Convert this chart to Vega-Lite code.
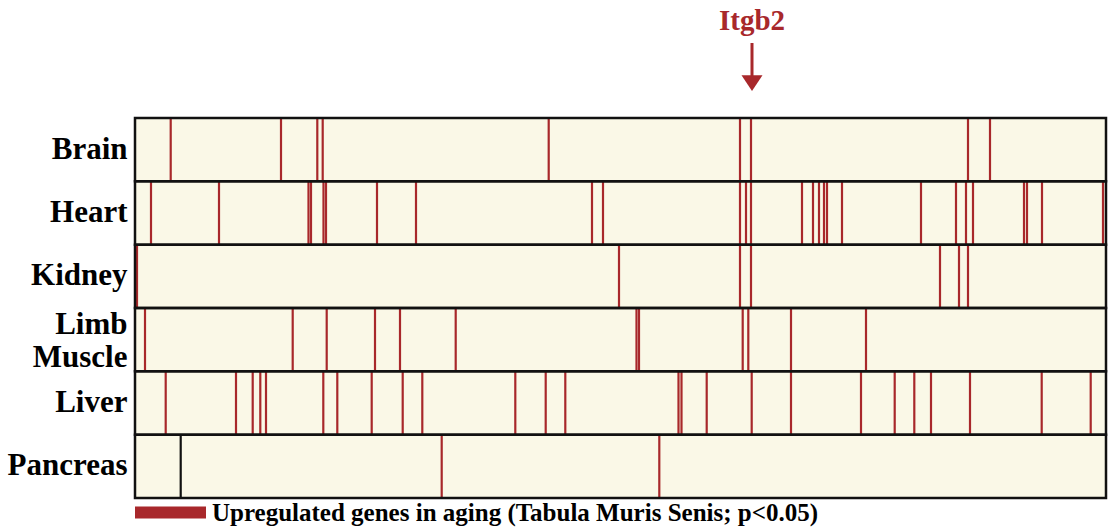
{
  "$schema": "https://vega.github.io/schema/vega-lite/v6.json",
  "width": 971,
  "height": 380,
  "autosize": {"type": "none"},
  "padding": {"left": 135, "top": 118, "right": 2, "bottom": 32},
  "background": "white",
  "config": {"view": {"stroke": null}, "font": "Liberation Serif"},
  "datasets": {
    "tissues": [
      {"tissue": "Brain"}, {"tissue": "Heart"}, {"tissue": "Kidney"},
      {"tissue": "Limb Muscle"}, {"tissue": "Liver"}, {"tissue": "Pancreas"}
    ],
    "genes": [
      {"tissue": "Brain", "pos": 35.7}, {"tissue": "Brain", "pos": 146}, {"tissue": "Brain", "pos": 182.3},
      {"tissue": "Brain", "pos": 187.7}, {"tissue": "Brain", "pos": 413.7}, {"tissue": "Brain", "pos": 605},
      {"tissue": "Brain", "pos": 616}, {"tissue": "Brain", "pos": 833}, {"tissue": "Brain", "pos": 855},
      {"tissue": "Heart", "pos": 16}, {"tissue": "Heart", "pos": 84}, {"tissue": "Heart", "pos": 173.5},
      {"tissue": "Heart", "pos": 176}, {"tissue": "Heart", "pos": 188.5}, {"tissue": "Heart", "pos": 191},
      {"tissue": "Heart", "pos": 242}, {"tissue": "Heart", "pos": 281}, {"tissue": "Heart", "pos": 457},
      {"tissue": "Heart", "pos": 468}, {"tissue": "Heart", "pos": 605}, {"tissue": "Heart", "pos": 611},
      {"tissue": "Heart", "pos": 616}, {"tissue": "Heart", "pos": 667}, {"tissue": "Heart", "pos": 678},
      {"tissue": "Heart", "pos": 684}, {"tissue": "Heart", "pos": 689}, {"tissue": "Heart", "pos": 692},
      {"tissue": "Heart", "pos": 707}, {"tissue": "Heart", "pos": 786}, {"tissue": "Heart", "pos": 821},
      {"tissue": "Heart", "pos": 831}, {"tissue": "Heart", "pos": 838}, {"tissue": "Heart", "pos": 889},
      {"tissue": "Heart", "pos": 892}, {"tissue": "Heart", "pos": 907}, {"tissue": "Heart", "pos": 968},
      {"tissue": "Kidney", "pos": 2}, {"tissue": "Kidney", "pos": 484}, {"tissue": "Kidney", "pos": 605},
      {"tissue": "Kidney", "pos": 616}, {"tissue": "Kidney", "pos": 805}, {"tissue": "Kidney", "pos": 824},
      {"tissue": "Kidney", "pos": 833},
      {"tissue": "Limb Muscle", "pos": 10}, {"tissue": "Limb Muscle", "pos": 157.7}, {"tissue": "Limb Muscle", "pos": 191.7},
      {"tissue": "Limb Muscle", "pos": 240}, {"tissue": "Limb Muscle", "pos": 265}, {"tissue": "Limb Muscle", "pos": 320.7},
      {"tissue": "Limb Muscle", "pos": 501.5}, {"tissue": "Limb Muscle", "pos": 504}, {"tissue": "Limb Muscle", "pos": 607.7},
      {"tissue": "Limb Muscle", "pos": 613.3}, {"tissue": "Limb Muscle", "pos": 656}, {"tissue": "Limb Muscle", "pos": 731},
      {"tissue": "Liver", "pos": 30.7}, {"tissue": "Liver", "pos": 101}, {"tissue": "Liver", "pos": 117.7},
      {"tissue": "Liver", "pos": 125.3}, {"tissue": "Liver", "pos": 131}, {"tissue": "Liver", "pos": 188.3},
      {"tissue": "Liver", "pos": 202.3}, {"tissue": "Liver", "pos": 236.7}, {"tissue": "Liver", "pos": 267.7},
      {"tissue": "Liver", "pos": 287.3}, {"tissue": "Liver", "pos": 380.3}, {"tissue": "Liver", "pos": 410.7},
      {"tissue": "Liver", "pos": 430.3}, {"tissue": "Liver", "pos": 543.5}, {"tissue": "Liver", "pos": 546.5},
      {"tissue": "Liver", "pos": 571.7}, {"tissue": "Liver", "pos": 616.7}, {"tissue": "Liver", "pos": 656},
      {"tissue": "Liver", "pos": 726}, {"tissue": "Liver", "pos": 759.7}, {"tissue": "Liver", "pos": 779.3},
      {"tissue": "Liver", "pos": 796}, {"tissue": "Liver", "pos": 835}, {"tissue": "Liver", "pos": 906.7},
      {"tissue": "Liver", "pos": 955.7},
      {"tissue": "Pancreas", "pos": 306.7}, {"tissue": "Pancreas", "pos": 524.3}
    ],
    "dividers": [{"tissue": "Pancreas", "pos": 45.7}],
    "callout": [{"gene": "Itgb2", "pos": 617}]
  },
  "layer": [
    {
      "layer": [
        {
          "data": {"name": "tissues"},
          "mark": {"type": "rect", "fill": "#FAF8E7", "strokeWidth": 0},
          "encoding": {
            "x": {"datum": 0, "type": "quantitative", "scale": {"domain": [0, 971], "nice": false, "zero": false}, "axis": null},
            "x2": {"datum": 971},
            "y": {
              "field": "tissue", "type": "nominal", "sort": null,
              "scale": {"domain": ["Brain", "Heart", "Kidney", "Limb Muscle", "Liver", "Pancreas"], "paddingInner": 0, "paddingOuter": 0},
              "axis": {
                "title": null, "domain": false, "ticks": false,
                "labelFont": "Liberation Serif", "labelFontWeight": "bold", "labelFontSize": 31,
                "labelColor": "black", "labelPadding": 8, "labelLineHeight": 33, "labelLimit": 0,
                "labelExpr": "datum.value == 'Limb Muscle' ? ['Limb', 'Muscle'] : datum.value",
                "labelOffset": {"condition": {"test": "datum.value == 'Limb Muscle'", "value": -15}, "value": 0}
              }
            }
          }
        },
        {
          "data": {"name": "genes"},
          "mark": {"type": "tick", "orient": "vertical", "thickness": 2.2, "size": 63.4, "opacity": 1},
          "encoding": {
            "x": {"field": "pos", "type": "quantitative"},
            "y": {"field": "tissue", "type": "nominal", "sort": null},
            "color": {
              "datum": "Upregulated genes in aging (Tabula Muris Senis; p<0.05)",
              "scale": {"range": ["#A8282B"]},
              "legend": {
                "orient": "none", "legendX": 0, "legendY": 359, "title": null, "padding": 0,
                "symbolType": "M-1,-0.17L1,-0.17L1,0.17L-1,0.17Z", "symbolSize": 5041, "symbolStrokeWidth": 0,
                "symbolFillColor": "#A8282B", "symbolOpacity": 1,
                "labelFont": "Liberation Serif", "labelFontWeight": "bold", "labelFontSize": 25,
                "labelColor": "black", "labelOffset": 6, "labelLimit": 0
              }
            }
          }
        },
        {
          "data": {"name": "dividers"},
          "mark": {"type": "tick", "orient": "vertical", "thickness": 2.2, "size": 63.4, "opacity": 1, "color": "#111111"},
          "encoding": {
            "x": {"field": "pos", "type": "quantitative"},
            "y": {"field": "tissue", "type": "nominal", "sort": null}
          }
        },
        {
          "data": {"name": "tissues"},
          "mark": {"type": "rect", "fill": null, "fillOpacity": 0, "stroke": "#111111", "strokeWidth": 2.5},
          "encoding": {
            "x": {"datum": 0, "type": "quantitative"},
            "x2": {"datum": 971},
            "y": {"field": "tissue", "type": "nominal", "sort": null}
          }
        }
      ]
    },
    {
      "data": {"name": "callout"},
      "layer": [
        {
          "mark": {"type": "text", "color": "#A8282B", "font": "Liberation Serif", "fontWeight": "bold", "fontSize": 29, "align": "center", "baseline": "alphabetic"},
          "encoding": {
            "x": {"field": "pos", "type": "quantitative"},
            "y": {"datum": 1.2316, "type": "quantitative", "scale": {"domain": [0, 1], "nice": false, "zero": false}, "axis": null},
            "text": {"field": "gene"}
          }
        },
        {
          "mark": {"type": "rule", "color": "#A8282B", "strokeWidth": 3},
          "encoding": {
            "x": {"field": "pos", "type": "quantitative"},
            "y": {"datum": 1.1974, "type": "quantitative"},
            "y2": {"datum": 1.1}
          }
        },
        {
          "mark": {"type": "point", "shape": "M-1,-0.75L1,-0.75L0,0.75Z", "size": 441, "filled": true, "opacity": 1, "color": "#A8282B"},
          "encoding": {
            "x": {"field": "pos", "type": "quantitative"},
            "y": {"datum": 1.0921, "type": "quantitative"}
          }
        }
      ]
    }
  ],
  "resolve": {"scale": {"y": "independent"}, "axis": {"y": "independent"}}
}
